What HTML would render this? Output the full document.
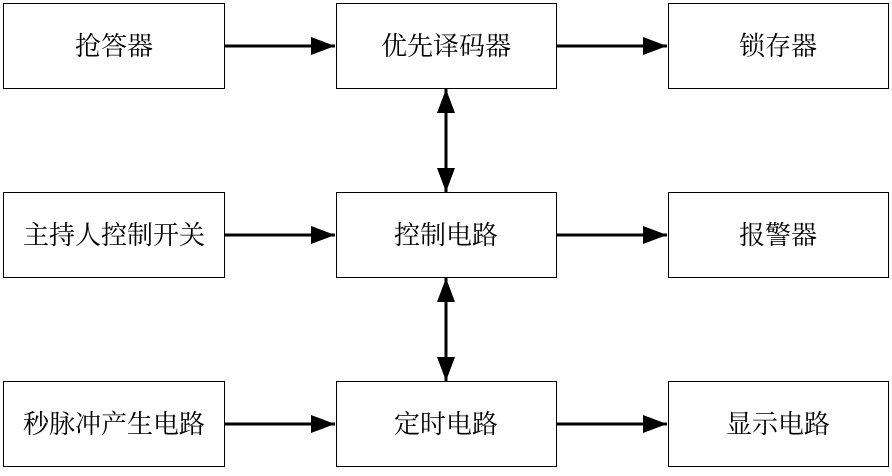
<!DOCTYPE html>
<html><head><meta charset="utf-8"><style>
body{margin:0;background:#fff;}
text{font-family:"Liberation Serif","Noto Serif CJK SC",serif;font-size:26px;fill:#000;}
</style></head><body>
<svg width="892" height="471" viewBox="0 0 892 471" xmlns="http://www.w3.org/2000/svg">
<defs>
<marker id="a" markerWidth="8" markerHeight="6" refX="8" refY="3" orient="auto" markerUnits="strokeWidth"><path d="M0,0 L8,3 L0,6 z" fill="#000"/></marker>
<marker id="s" markerWidth="8" markerHeight="6" refX="0" refY="3" orient="auto" markerUnits="strokeWidth"><path d="M8,0 L0,3 L8,6 z" fill="#000"/></marker>
</defs>
<g fill="#fff" stroke="#000" stroke-width="1">
<rect x="3.5" y="3.5" width="221" height="85"/>
<rect x="336.5" y="3.5" width="220" height="85"/>
<rect x="668.5" y="3.5" width="220" height="85"/>
<rect x="3.5" y="192.5" width="221" height="85"/>
<rect x="336.5" y="192.5" width="220" height="85"/>
<rect x="668.5" y="192.5" width="220" height="85"/>
<rect x="3.5" y="381.5" width="221" height="85"/>
<rect x="336.5" y="381.5" width="220" height="85"/>
<rect x="668.5" y="381.5" width="220" height="85"/>
</g>
<g stroke="#000" stroke-width="3">
<line x1="225" y1="46" x2="335" y2="46" marker-end="url(#a)"/>
<line x1="557" y1="46" x2="667" y2="46" marker-end="url(#a)"/>
<line x1="225" y1="235" x2="335" y2="235" marker-end="url(#a)"/>
<line x1="557" y1="235" x2="667" y2="235" marker-end="url(#a)"/>
<line x1="225" y1="424" x2="335" y2="424" marker-end="url(#a)"/>
<line x1="557" y1="424" x2="667" y2="424" marker-end="url(#a)"/>
<line x1="446" y1="89" x2="446" y2="192" marker-start="url(#s)" marker-end="url(#a)"/>
<line x1="446" y1="278" x2="446" y2="381" marker-start="url(#s)" marker-end="url(#a)"/>
</g>
<g text-anchor="middle">
<text x="114" y="55">抢答器</text>
<text x="446" y="55">优先译码器</text>
<text x="778" y="55">锁存器</text>
<text x="114" y="244">主持人控制开关</text>
<text x="446" y="244">控制电路</text>
<text x="778" y="244">报警器</text>
<text x="114" y="433">秒脉冲产生电路</text>
<text x="446" y="433">定时电路</text>
<text x="778" y="433">显示电路</text>
</g>
</svg>
</body></html>
